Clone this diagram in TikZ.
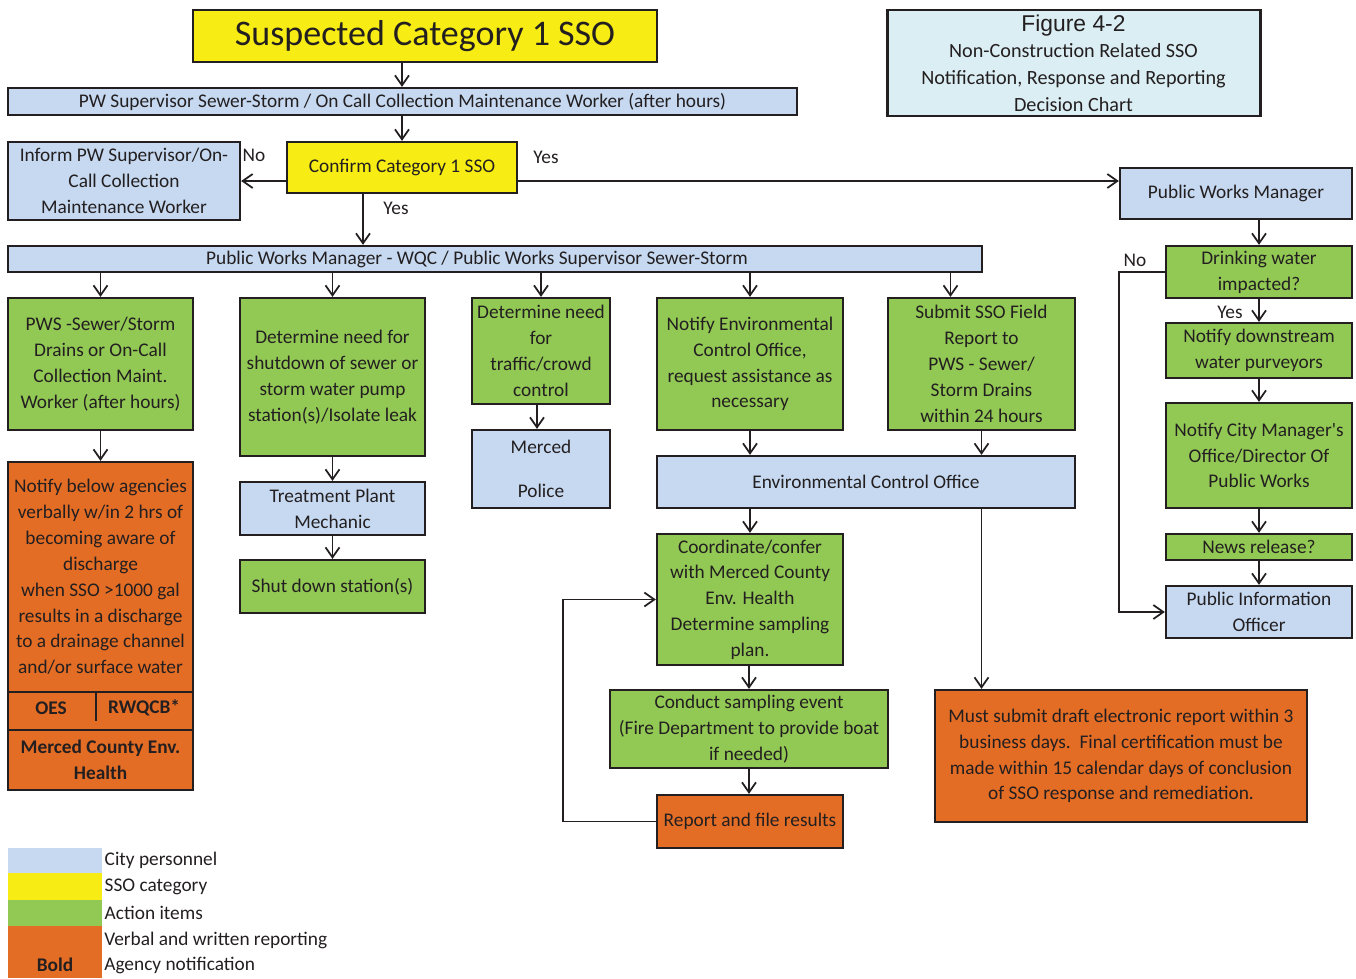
\documentclass[tikz,border=0pt]{standalone}
\usepackage{fontspec}
\setmainfont{Carlito}
\newfontfamily\arialfont{Liberation Sans}
\usetikzlibrary{arrows.meta,positioning}
\definecolor{cityblue}{HTML}{C6D9F1}
\definecolor{ssoyellow}{HTML}{F7EC13}
\definecolor{actgreen}{HTML}{92C954}
\definecolor{reporange}{HTML}{E46D25}
\definecolor{figcyan}{HTML}{DBEEF3}
\definecolor{inkdark}{HTML}{231F20}
\tikzset{
  box/.style={draw=inkdark, line width=1.3pt, align=center, inner sep=1pt,
    text=inkdark, font=\fontsize{11}{14.7}\selectfont},
  wh/.style 2 args={minimum width=#1*0.02cm, minimum height=#2*0.02cm},
  citybox/.style={box, fill=cityblue},
  ssobox/.style={box, fill=ssoyellow},
  actbox/.style={box, fill=actgreen},
  repbox/.style={box, fill=reporange},
  arr/.style={draw=inkdark, line width=1pt, -{Straight Barb[length=2mm,width=2.8mm]}},
  lbl/.style={text=inkdark, inner sep=0pt, font=\fontsize{11}{14.7}\selectfont},
  swatch/.style={inner sep=0pt, minimum width=94*0.02cm}
}
\begin{document}
\begin{tikzpicture}[x=0.02cm, y=-0.02cm]
  \useasboundingbox (0,0) rectangle (1356,978);
  % top of the chart
  \node (title) [ssobox, wh={464}{52}, font=\fontsize{20.5}{23}\selectfont] at (425,36) {Suspected Category 1 SSO};
  \node (figbox) [box, fill=figcyan, wh={373}{106}, line width=1.7pt, font=\fontsize{11.5}{15.1}\selectfont] at (1073.5,63)
    {{\arialfont\fontsize{13}{15}\selectfont Figure 4-2}\\Non-Construction Related SSO\\Notification, Response and Reporting\\Decision Chart};
  \node (pwsup) [citybox, wh={789}{27}] at (402.5,101.5) {PW Supervisor Sewer-Storm / On Call Collection Maintenance Worker (after hours)};
  \node (confirm) [ssobox, wh={230}{51}] at (402,167.5) {Confirm Category 1 SSO};
  \node (inform) [citybox, wh={232}{78}] at (124,181) {Inform PW Supervisor/On-\\Call Collection\\Maintenance Worker};
  \node (pwm) [citybox, wh={232}{51}] at (1236,193.5) {Public Works Manager};
  \node (wqc) [citybox, wh={974}{26}] at (495,259) {\hspace*{-0.72cm}Public Works Manager - WQC / Public Works Supervisor Sewer-Storm};
  % action row
  \node (pws) [actbox, wh={185}{132}] at (100.5,364) {PWS -Sewer/Storm\\Drains or On-Call\\Collection Maint.\\Worker (after hours)};
  \node (pumps) [actbox, wh={185}{158}] at (332.5,377) {Determine need for\\shutdown of sewer or\\storm water pump\\station(s)/Isolate leak};
  \node (traffic) [actbox, wh={138}{106}] at (541,351) {Determine need\\for\\traffic/crowd\\control};
  \node (notenv) [actbox, wh={186}{132}] at (750,364) {Notify Environmental\\Control Office,\\request assistance as\\necessary};
  \node (submit) [actbox, wh={187}{132}] at (981.5,364) {Submit SSO Field\\Report to\\PWS - Sewer/\\Storm Drains\\within 24 hours};
  % agency reporting block
  \node (agnotify) [repbox, wh={185}{230}] at (100.5,577) {Notify below agencies\\verbally w/in 2 hrs of\\becoming aware of\\discharge\\when SSO >1000 gal\\results in a discharge\\to a drainage channel\\and/or surface water};
  \node (agrow) [repbox, wh={185}{38}] at (100.5,711) {};
  \node (oes) [lbl, font=\fontsize{11}{14.7}\selectfont\bfseries] at (51,708) {OES};
  \node (rwqcb) [lbl, font=\fontsize{11}{14.7}\selectfont\bfseries] at (144,708) {RWQCB*};
  \draw[inkdark, line width=0.6pt] ([xshift=-0.09cm]agrow.north) -- ([xshift=-0.09cm, yshift=0.2cm]agrow.south);
  \node (mercedenv) [repbox, wh={185}{60}, font=\fontsize{11}{14.7}\selectfont\bfseries] at (100.5,760) {Merced County Env.\\Health};
  % middle column boxes
  \node (treat) [citybox, wh={185}{53}] at (332.5,508.5) {Treatment Plant\\Mechanic};
  \node (shutdown) [actbox, wh={185}{53}] at (332.5,586.5) {Shut down station(s)};
  \node (police) [citybox, wh={138}{78}] at (541,469) {Merced\\[10pt]Police};
  \node (eco) [citybox, wh={418}{52}] at (866,482) {Environmental Control Office};
  \node (coord) [actbox, wh={186}{131}] at (750,599.5) {Coordinate/confer\\with Merced County\\Env. Health\\Determine sampling\\plan.};
  \node (conduct) [actbox, wh={278}{78}] at (749,729) {Conduct sampling event\\(Fire Department to provide boat\\if needed)};
  \node (report) [repbox, wh={186}{53}] at (750,821.5) {Report and file results};
  \node (must) [repbox, wh={372}{132}] at (1121,756) {Must submit draft electronic report within 3\\business days.\ \ Final certification must be\\made within 15 calendar days of conclusion\\of SSO response and remediation.};
  % right column
  \node (drink) [actbox, wh={186}{52}] at (1259,272) {Drinking water\\impacted?};
  \node (downstream) [actbox, wh={186}{55}] at (1259,350.5) {Notify downstream\\water purveyors};
  \node (citymgr) [actbox, wh={186}{105}] at (1259,455.5) {Notify City Manager\textquotesingle s\\Office/Director Of\\Public Works};
  \node (news) [actbox, wh={186}{26}] at (1259,547) {News release?};
  \node (pio) [citybox, wh={186}{52}] at (1259,612) {Public Information\\Officer};
  % connectors
  \draw[arr] (title.south -| confirm) -- (confirm |- pwsup.north);
  \draw[arr] (confirm |- pwsup.south) -- (confirm.north);
  \draw[arr] (confirm.west |- inform.east) -- (inform.east);
  \draw[arr] (confirm.east |- inform.east) -- (pwm.west |- inform.east);
  \draw[arr] ([xshift=-0.78cm]confirm.south) -- ([xshift=-0.78cm]confirm.south |- wqc.north);
  \node (nolft) [lbl] at (254,155) {No};
  \node (yesrgt) [lbl] at (546,157) {Yes};
  \node (yesdwn) [lbl] at (396,208) {Yes};
  \draw[arr] (pws |- wqc.south) -- (pws.north);
  \draw[arr] (pumps |- wqc.south) -- (pumps.north);
  \draw[arr] (traffic |- wqc.south) -- (traffic.north);
  \draw[arr] (notenv |- wqc.south) -- (notenv.north);
  \draw[arr] ([xshift=-0.62cm]submit.north |- wqc.south) -- ([xshift=-0.62cm]submit.north);
  \draw[arr] (pws.south) -- (agnotify.north);
  \draw[arr] (pumps.south) -- (treat.north);
  \draw[arr] (treat.south) -- (shutdown.north);
  \draw[arr] ([xshift=-0.08cm]traffic.south) -- ([xshift=-0.08cm]police.north);
  \draw[arr] (notenv.south) -- (notenv |- eco.north);
  \draw[arr] (submit.south) -- (submit |- eco.north);
  \draw[arr] (coord |- eco.south) -- (coord.north);
  \draw[arr] (submit |- eco.south) -- (submit |- must.north);
  \draw[arr] (coord.south) -- (coord.south -| conduct) -- (conduct.north);
  \draw[arr] (conduct.south) -- (conduct.south |- report.north);
  \draw[arr] (report.west) -- ++(-93,0) |- (coord.west);
  \draw[arr] (drink.north |- pwm.south) -- (drink.north);
  \draw[arr] (drink.south) -- (downstream.north);
  \draw[arr] (downstream.south) -- (citymgr.north);
  \draw[arr] (citymgr.south) -- (news.north);
  \draw[arr] (news.south) -- (pio.north);
  \draw[arr] (drink.west) -- ++(-46,0) |- (pio.west);
  \node (yesdrink) [lbl] at (1230,312) {Yes};
  \node (nodrink) [lbl] at (1135,260) {No};
  % legend
  \node (legcity) [swatch, fill=cityblue, minimum height=25*0.02cm] at (55,860.5) {};
  \node (legsso) [swatch, fill=ssoyellow, minimum height=27*0.02cm] at (55,886.5) {};
  \node (legact) [swatch, fill=actgreen, minimum height=26*0.02cm] at (55,913) {};
  \node (legrep) [swatch, fill=reporange, minimum height=52*0.02cm] at (55,952) {};
  \node (legcitytxt) [lbl, right=0.04cm of legcity] {City personnel};
  \node (legssotxt) [lbl, right=0.04cm of legsso] {SSO category};
  \node (legacttxt) [lbl, right=0.04cm of legact] {Action items};
  \node (legreptxt) [lbl, anchor=west] at (104,940) {Verbal and written reporting};
  \node (legagtxt) [lbl, anchor=west] at (104,965) {Agency notification};
  \node (legbold) [lbl, font=\fontsize{11}{14.7}\selectfont\bfseries] at (55,965) {Bold};
\end{tikzpicture}
\end{document}
